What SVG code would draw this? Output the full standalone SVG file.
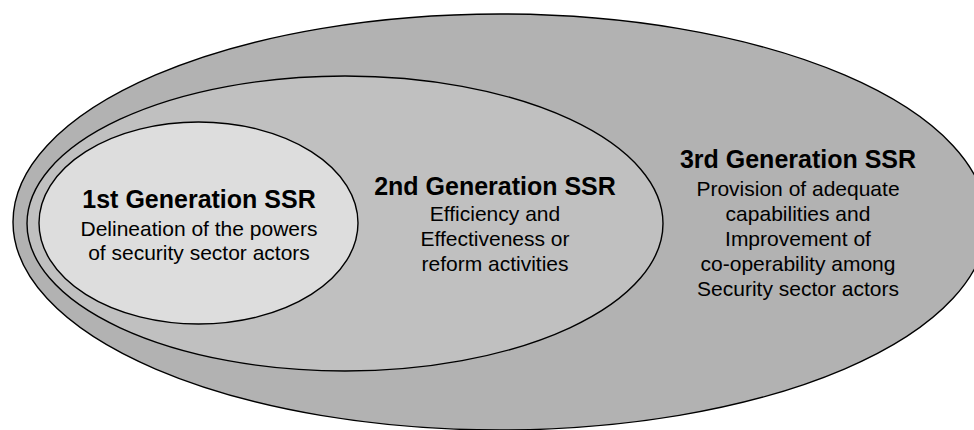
<svg xmlns="http://www.w3.org/2000/svg" width="974" height="430" viewBox="0 0 974 430">
  <style>
    .ring { stroke: #000; stroke-width: 1.4; }
    .gen3 { fill: #b2b2b2; }
    .gen2 { fill: #c0c0c0; }
    .gen1 { fill: #dddddd; }
    text { font-family: "Liberation Sans", Arial, sans-serif; fill: #000; text-anchor: middle; }
    .title { font-size: 25px; font-weight: bold; }
    .body { font-size: 21px; }
  </style>
  <rect width="974" height="430" fill="#fff"/>

  <!-- Third generation: outermost ring -->
  <g id="gen3">
    <ellipse class="ring gen3" cx="500" cy="222" rx="487" ry="208"/>
    <text class="title" x="798" y="168">3rd Generation SSR</text>
    <text class="body" x="798" y="196">Provision of adequate</text>
    <text class="body" x="798" y="221">capabilities and</text>
    <text class="body" x="798" y="246">Improvement of</text>
    <text class="body" x="798" y="271">co-operability among</text>
    <text class="body" x="798" y="296">Security sector actors</text>
  </g>

  <!-- Second generation: middle ring -->
  <g id="gen2">
    <ellipse class="ring gen2" cx="345" cy="223.5" rx="318" ry="147.5"/>
    <text class="title" x="495" y="195">2nd Generation SSR</text>
    <text class="body" x="495" y="221">Efficiency and</text>
    <text class="body" x="495" y="246">Effectiveness or</text>
    <text class="body" x="495" y="271">reform activities</text>
  </g>

  <!-- First generation: innermost ring -->
  <g id="gen1">
    <ellipse class="ring gen1" cx="198.5" cy="223" rx="159.5" ry="101"/>
    <text class="title" x="199" y="208">1st Generation SSR</text>
    <text class="body" x="199" y="236">Delineation of the powers</text>
    <text class="body" x="199" y="260">of security sector actors</text>
  </g>

  <!-- No connectors in this figure -->
  <g id="connectors"/>
</svg>
